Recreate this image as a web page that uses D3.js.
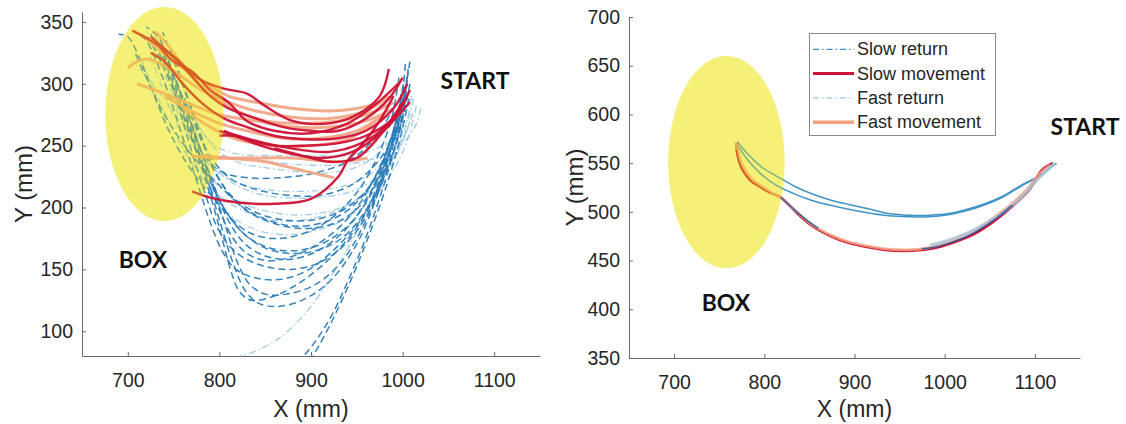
<!DOCTYPE html>
<html><head><meta charset="utf-8">
<script src="https://cdn.jsdelivr.net/npm/d3@7"></script>
<style>
html,body{margin:0;padding:0;background:#fff;}
svg{display:block;}
.tick text{font-family:"Liberation Sans",Arial,sans-serif;font-size:19.5px;fill:#262626;}
</style></head>
<body><svg id="c" width="1126" height="424"></svg>
<script>
// ---------- DATA (mm) ----------
const xTicks = [700, 800, 900, 1000, 1100];
const leftYTicks = [100, 150, 200, 250, 300, 350];
const rightYTicks = [350, 400, 450, 500, 550, 600, 650, 700];
const legendLabels = ["Slow return", "Slow movement", "Fast return", "Fast movement"];

// ellipse [cx, cy, rx, ry] in mm
const leftBox = [740, 275.5, 64.5, 86.5];
const rightBox = [758, 551, 64.5, 109];

// Left panel: individual trials
const leftSlowReturn = [
 [[1003,316],[1000,295],[990,262],[972,228],[948,198],[918,176],[885,162],[855,157],[832,162],[815,175],[800,198],[785,225],[770,255],[755,285],[738,315],[722,338]],
 [[1006,312],[1002,282],[992,250],[972,212],[946,180],[915,155],[885,138],[858,128],[835,125],[822,132],[812,150],[802,178],[790,210],[775,245],[758,280],[740,315],[725,340]],
 [[996,305],[988,272],[972,240],[950,212],[920,190],[888,178],[858,175],[832,180],[812,192],[797,210],[782,235],[767,265],[752,295],[737,325]],
 [[1001,300],[992,268],[978,235],[958,202],[932,178],[902,163],[872,158],[846,162],[826,172],[808,192],[792,222],[777,252],[762,282],[745,315],[730,335]],
 [[999,292],[990,258],[976,222],[957,185],[932,155],[903,137],[873,130],[850,130],[833,138],[820,155],[808,182],[795,212],[781,242],[767,272],[752,303],[738,330]],
 [[1008,300],[997,262],[982,228],[962,195],[937,170],[908,155],[878,150],[852,152],[830,158],[812,168],[797,185],[785,210],[772,240],[760,270],[748,300]],
 [[1002,283],[992,250],[976,210],[958,172],[940,140],[922,112],[905,92],[892,80]],
 [[1007,288],[996,252],[980,212],[962,175],[944,142],[926,113],[910,90],[902,80]],
 [[991,282],[972,258],[942,238],[905,228],[865,224],[832,224],[805,228],[785,240],[770,262],[755,292],[742,320]],
 [[996,268],[978,242],[948,220],[912,210],[874,210],[843,214],[815,222],[795,236],[778,258],[762,288]],
 [[1000,274],[982,238],[958,205],[928,188],[892,183],[860,187],[835,195],[815,207],[796,228],[780,258],[765,290],[750,322]],
 [[1004,298],[994,265],[978,228],[956,192],[928,168],[898,150],[868,142],[840,143],[818,150],[803,165],[790,188],[778,215],[765,245],[752,275],[738,305],[720,335],[708,342]],
 [[1001,290],[988,250],[970,205],[948,168],[920,140],[890,125],[862,120],[842,123],[828,133],[815,155],[802,185],[790,215],[776,248]],
 [[1005,306],[998,278],[985,245],[965,210],[940,185],[910,170],[880,165],[852,168],[828,178],[808,196],[792,220],[778,250],[764,280],[748,312],[733,338],[720,346]],
 [[1008,318],[1004,300],[996,270],[982,240],[962,215],[935,198],[902,190],[870,190],[840,196],[815,208],[797,226],[782,252],[768,282],[752,315],[738,342]],
 [[1003,295],[994,262],[980,228],[960,198],[935,176],[905,165],[875,163],[848,168],[825,180],[805,198],[785,215],[765,235],[745,262],[728,292],[712,322],[700,338],[690,340]],
 [[998,286],[986,252],[968,222],[944,200],[914,188],[882,185],[852,190],[826,200],[804,215],[782,232],[760,252],[740,275],[722,302],[708,325]]
];
const leftFastReturn = [
 [[1010,290],[1002,262],[986,236],[962,214],[932,199],[900,191],[868,189],[838,194],[810,204],[788,218],[768,238],[750,262],[732,290],[716,318]],
 [[1015,282],[1006,256],[990,230],[966,206],[936,190],[903,181],[870,178],[840,182],[815,192],[795,207],[777,230],[758,260],[740,292],[725,322]],
 [[1006,286],[996,266],[977,246],[951,233],[920,228],[886,229],[852,232],[822,236],[798,246],[778,265],[760,290],[745,315]],
 [[1011,276],[1001,256],[984,240],[956,223],[921,215],[882,213],[847,215],[817,221],[792,232],[772,252],[755,276],[740,300]],
 [[1020,280],[1014,266],[1000,252],[978,242],[950,236],[915,234],[880,235],[845,238]],
 [[1001,266],[983,232],[958,192],[930,154],[900,120],[868,96],[840,84],[822,80]],
 [[1012,288],[1006,272],[992,258],[966,246],[932,242],[893,242],[855,242],[822,243],[795,250],[775,268],[758,292],[742,320],[728,340]],
 [[1008,270],[996,246],[976,222],[948,205],[914,196],[880,194],[846,198],[818,206],[796,220],[778,242],[762,268],[746,296],[732,325]],
 [[1004,262],[990,240],[968,222],[940,212],[905,208],[870,208],[838,212],[810,222],[786,240],[764,262],[742,285],[722,305],[705,318]]
];
const leftFastMove = [
 [[975,285],[950,280],[920,278],[880,280],[840,285],[810,290],[790,298],[770,308],[750,318],[730,330],[715,340]],
 [[985,290],[960,278],[920,272],[880,273],[840,278],[810,285],[780,295],[750,310],[720,320],[700,313]],
 [[990,280],[960,270],[920,265],[880,265],[840,270],[800,275],[770,283],[740,292],[710,300]],
 [[980,275],[950,262],[910,256],[870,256],[830,262],[800,268],[770,278],[740,290]],
 [[970,270],[940,255],[900,250],[860,250],[820,255],[790,265],[760,280]],
 [[962,240],[930,237],[880,240],[830,240],[790,240],[770,242]],
 [[925,224],[890,230],[850,237],[810,240],[780,242]],
 [[990,285],[960,275],[930,270],[890,268],[850,270],[820,278],[790,292],[765,310],[745,330],[730,342]]
];
const leftSlowMove = [
 [[985,312],[975,290],[950,275],[920,268],[880,270],[850,282],[830,292],[805,296],[780,303],[750,322],[725,335],[705,343]],
 [[1000,305],[985,288],[960,272],[930,262],[900,262],[870,265],[840,272],[810,280],[790,290],[765,310],[745,325],[725,338]],
 [[1005,300],[990,280],[960,262],[930,256],[900,255],[860,258],[830,265],[805,272],[780,285],[760,300],[740,318],[725,325]],
 [[1008,295],[990,272],[960,258],[930,252],[895,250],[860,250],[830,255],[805,262]],
 [[1005,290],[985,268],[955,252],[920,245],[885,247],[850,252],[820,258],[800,262]],
 [[1000,285],[975,260],[945,245],[910,240],[875,244],[845,250],[815,258],[800,258]],
 [[1008,285],[980,262],[950,240],[920,237],[890,242],[860,248]],
 [[990,290],[975,270],[955,250],[940,238],[930,225],[900,207],[860,203],[820,204],[790,208],[770,213]],
 [[995,300],[970,283],[940,268],[900,260],[860,262],[830,270],[810,285],[790,295],[770,310],[750,318],[735,330]]
];

// Right panel: averaged trajectories
const rightSlowReturn = [
 [[1124,550],[1105,537],[1086,528],[1066,517],[1046,509],[1026,503],[1006,498.5],[984,496.5],[962,496.5],[940,498],[914,503.5],[894,507.5],[874,512],[854,518],[834,526],[815,536],[797,546],[783,558],[770,572]],
 [[1122,549],[1103,536],[1084,526],[1064,515],[1044,507],[1024,501],[1004,497],[982,495],[960,495],[938,496],[912,499.5],[892,503],[872,507],[852,512],[832,519],[812,528],[795,540],[781,554],[769,570]]
];
const rightSlowReturnLow = [
 [[818,515],[830,505],[845,493],[860,483]],
 [[975,462],[995,465],[1015,471],[1035,480],[1055,492],[1075,507]]
];
const rightFastReturn = [
 [[1122,550],[1104,534],[1084,514],[1064,499],[1044,487],[1024,478],[1004,471],[984,466]]
];
const rightSlowMove = [
 [[1120,550],[1108,543],[1094,523],[1074,505],[1054,490],[1034,478],[1014,470],[994,464],[974,461],[954,460],[934,461],[914,464],[894,468],[874,475],[854,485],[836,499],[822,512],[816,516],[806,520],[795,526],[785,532],[778,540],[773,549],[770,560],[769,571]]
];
const rightFastMove = [
 [[1117,548],[1105,539],[1092,524],[1074,508],[1054,494],[1034,482],[1014,473],[994,466],[974,462],[954,461],[934,462],[914,465],[894,469],[874,476],[854,486],[836,500],[820,513],[808,520],[796,527],[786,534],[779,543],[774,552],[771,563],[768,571]]
];

// ---------- STYLE ----------
const C = {slowRet:"#2a7cb9", slowRetR:"#3f93c6", fastRet:"#9ccae2", slowMove:"#cc1236", fastMove:"#f2a281",
           boxUnder:"#f9f7b9", boxOver:"#eee600", axis:"#6b6b6b", text:"#262626"};
const svg = d3.select("#c");

function panel(opt){
  const g = svg.append("g");
  const x = d3.scaleLinear().domain([650,1150]).range(opt.xr);
  const y = d3.scaleLinear().domain(opt.yd).range(opt.yr);
  const line = d3.line().x(d=>x(d[0])).y(d=>y(d[1])).curve(d3.curveCatmullRom.alpha(0.5));
  const xa = g.append("g").attr("transform",`translate(0,${opt.yr[0]})`)
    .call(d3.axisBottom(x).tickValues(xTicks).tickFormat(d3.format("d")).tickSizeInner(-4).tickSizeOuter(0).tickPadding(17));
  const ya = g.append("g").attr("transform",`translate(${opt.xr[0]},0)`)
    .call(d3.axisLeft(y).tickValues(opt.yTicks).tickFormat(d3.format("d")).tickSizeInner(-4).tickSizeOuter(0).tickPadding(9));
  [xa,ya].forEach(a=>{a.selectAll("path,line").attr("stroke",C.axis);});
  const b = opt.box;
  const ell = (fill, op)=>g.append("ellipse").attr("cx",x(b[0])).attr("cy",y(b[1]))
    .attr("rx",x(b[0]+b[2])-x(b[0])).attr("ry",y(b[1]-b[3])-y(b[1]))
    .attr("fill",fill).attr("fill-opacity",op);
  ell(C.boxUnder, 1);
  const lines = g.append("g");
  function draw(arr, color, w, dash, op){
    lines.selectAll(null).data(arr).enter().append("path")
      .attr("d", line).attr("fill","none").attr("stroke",color)
      .attr("stroke-width",w).attr("stroke-dasharray",dash||null)
      .attr("stroke-opacity",op||1).attr("stroke-linejoin","round").attr("stroke-linecap","butt");
  }
  opt.series.forEach(s=>draw(s[0],s[1],s[2],s[3],s[4]));
  ell(C.boxOver, 0.35);
  const lab = (t,px,py)=>g.append("text").text(t).attr("x",px).attr("y",py)
    .attr("text-anchor","middle").attr("dominant-baseline","central")
    .attr("font-family","Lato, 'Open Sans', sans-serif").attr("font-weight",700)
    .attr("font-size",23).attr("fill","#111");
  lab("BOX", opt.boxLab[0], opt.boxLab[1]);
  lab("START", opt.startLab[0], opt.startLab[1]);
  g.append("text").text("X (mm)").attr("x",(opt.xr[0]+opt.xr[1])/2).attr("y",409)
    .attr("text-anchor","middle").attr("dominant-baseline","central")
    .attr("font-family","'Liberation Sans', Arial, sans-serif").attr("font-size",23).attr("fill",C.text);
  g.append("text").text("Y (mm)")
    .attr("transform",`translate(${opt.yLabX},${(opt.yr[0]+opt.yr[1])/2}) rotate(-90)`)
    .attr("text-anchor","middle").attr("dominant-baseline","central")
    .attr("font-family","'Liberation Sans', Arial, sans-serif").attr("font-size",24).attr("fill",C.text);
  return {g,x,y};
}

panel({
  xr:[82,540], yd:[80,358], yr:[356,12], yTicks:leftYTicks, box:leftBox,
  boxLab:[143,259], startLab:[475,80], yLabX:23,
  series:[
    [leftFastReturn, C.fastRet, 1.3, "7,3,1.5,3", 0.95],
    [leftSlowReturn, C.slowRet, 1.5, "7,4", 0.95],
    [leftFastMove, C.fastMove, 3, null, 0.9],
    [leftSlowMove, C.slowMove, 2.4, null, 0.95]
  ]
});

panel({
  xr:[629,1080], yd:[350,700], yr:[358,17], yTicks:rightYTicks, box:rightBox,
  boxLab:[726,302], startLab:[1085,126], yLabX:574,
  series:[
    [rightSlowReturn, C.slowRetR, 1.5, null, 1],
    [rightSlowMove, C.slowMove, 2.6, null, 1],
    [rightFastMove, C.fastMove, 2.6, null, 0.85],
    [rightFastReturn, "#aac6dc", 3, null, 0.85],
    [rightSlowReturnLow, "#2f5f9e", 1.6, null, 0.9]
  ]
});

// Legend (right panel)
const lg = svg.append("g");
lg.append("rect").attr("x",809.5).attr("y",33.5).attr("width",186).attr("height",102)
  .attr("fill","#fff").attr("stroke","#8a8a8a").attr("stroke-width",1);
const legStyles = [[C.slowRetR,1.3,"6,3,1.5,3"],[C.slowMove,3,null],[C.fastRet,1.3,"6,3,1.5,3"],[C.fastMove,3.5,null]];
legendLabels.forEach((t,i)=>{
  const yy = 49.3 + i*24.3;
  lg.append("line").attr("x1",813).attr("x2",854).attr("y1",yy).attr("y2",yy)
    .attr("stroke",legStyles[i][0]).attr("stroke-width",legStyles[i][1]).attr("stroke-dasharray",legStyles[i][2]);
  lg.append("text").text(t).attr("x",857).attr("y",yy).attr("dominant-baseline","central")
    .attr("font-family","'Liberation Sans', Arial, sans-serif").attr("font-size",18).attr("fill",C.text);
});
</script></body></html>
